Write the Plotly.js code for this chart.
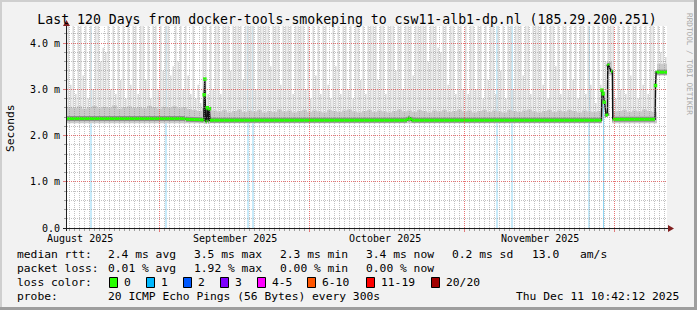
<!DOCTYPE html>
<html><head><meta charset="utf-8">
<script src="https://cdn.plot.ly/plotly-3.0.1.min.js"></script>
<style>html,body{margin:0;padding:0;background:#f2f2f2}#chart{width:697px;height:310px}</style>
</head><body><div id="chart"></div>
<script>
// ---------------- data ----------------
const T = 4.5; // smoke strand that runs off the top of the graph
const rangeStart = '2025-08-13 10:42:12';
const rangeEnd = '2025-12-11 10:42:12';
const monthGridDates = ['2025-09-01', '2025-10-01', '2025-11-01', '2025-12-01'];
const monthLabelDates = ['2025-08-16', '2025-09-16', '2025-10-16', '2025-11-16'];
const monthLabels = ['August 2025', 'September 2025', 'October 2025', 'November 2025'];
const yTickVals = [0, 1, 2, 3, 4];
const yTickText = ['0.0', '1.0 m', '2.0 m', '3.0 m', '4.0 m'];

// smoke (ping spread) tops, one value per 12 h column (240 columns)
const smokeTop = [
  T,3.1,T,2.9,T,T,3.3,T,2.8,T,3.0,T,T,3.6,
  3.9,3.8,T,3.0,T,2.9,T,3.2,T,2.8,T,3.1,T,
  T,2.9,T,T,3.2,T,2.8,T,T,3.0,T,3.4,T,
  T,3.3,3.5,T,3.6,T,3.0,T,3.3,2.9,T,2.8,3.1,2.7,
  T,T,2.9,T,3.0,
  T,T,2.9,T,T,T,3.4,T,T,T,T,3.2,T,T,T,T,3.0,T,T,T,T,T,3.5,T,T,T,3.1,T,T,T,T,2.9,T,T,T,
  T,3.0,T,2.8,T,3.3,T,2.9,T,T,3.1,2.8,T,3.5,T,2.9,T,T,3.0,T,2.8,T,T,3.2,T,2.9,T,T,
  T,T,3.2,T,T,2.9,T,T,T,3.4,T,T,3.0,T,T,T,3.3,T,T,T,T,T,3.6,T,T,T,3.9,3.8,T,T,3.1,T,T,2.9,T,T,3.0,T,2.9,T,
  T,3.0,T,T,2.8,T,3.2,T,T,2.9,T,3.4,T,2.8,T,T,3.0,T,T,T,3.3,T,T,2.9,T,T,T,T,3.1,T,2.8,T,T,3.5,T,2.9,T,T,3.0,T,3.2,T,2.8,T,T,2.9,T,3.1,T,2.7,T,
  3.1,T,3.6,T,T,T,2.8,
  T,3.0,T,2.9,T,3.3,T,T,2.8,T,3.1,T,2.9,T,T,3.0,
  T,3.8,T,3.7
];
const smokeFloorDefault = 2.26;
const smokeFloorIdx = [214, 215, 216, 217, 236, 237, 238, 239];
const smokeFloorVal = [2.7, 2.45, 3.35, 3.3, 3.3, 3.3, 3.3, 3.3];

// dense smoke band top, one value per day (120 days)
const bandTop = [
  2.62,2.60,2.63,2.58,2.61,2.64,2.59,2.62,2.60,2.65,2.58,2.61,2.63,2.60,2.62,2.59,2.64,2.61,2.58,2.62,2.60,2.63,2.59,2.61,2.57,2.55,2.53,
  2.60,2.62,
  2.54,2.52,2.55,2.50,2.53,2.56,2.51,2.54,2.52,2.55,
  2.50,2.53,2.51,2.56,2.52,2.54,2.50,2.53,2.55,2.51,
  2.54,2.52,2.50,2.55,2.53,2.51,2.54,2.56,2.52,2.50,
  2.53,2.55,2.51,2.54,2.52,2.50,2.53,2.56,2.52,2.54,
  2.51,2.55,2.53,2.50,2.54,2.52,2.55,2.51,2.53,2.56,
  2.52,2.54,2.50,2.53,2.55,2.51,2.54,2.52,2.50,2.55,
  2.53,2.51,2.54,2.56,2.52,2.50,2.53,2.55,2.51,2.54,
  2.52,2.55,2.53,2.50,2.54,2.52,2.51,2.53,
  2.27,3.60,2.52,
  2.53,2.55,2.51,2.54,2.52,2.56,2.53,2.51,
  3.55,3.55
];
const bandFloorDefault = 2.27;
const bandFloorIdx = [108, 118, 119];
const bandFloorVal = [3.32, 3.30, 3.30];

// median RTT (ms) change points
const medianDates = [
  '2025-08-13 10:42', '2025-09-06 01:06', '2025-09-06 05:54', '2025-09-09 10:42',
  '2025-09-09 19:20', '2025-09-09 21:15', '2025-09-10 00:08', '2025-09-10 03:59',
  '2025-09-10 09:44', '2025-09-10 12:08', '2025-09-10 16:27', '2025-09-10 19:20',
  '2025-09-10 21:44', '2025-09-11 01:06', '2025-10-20 10:42', '2025-10-20 17:54',
  '2025-10-21 01:06', '2025-10-21 08:18', '2025-11-28 08:18', '2025-11-28 10:42',
  '2025-11-28 16:56', '2025-11-28 21:44', '2025-11-29 05:54', '2025-11-29 13:06',
  '2025-11-29 14:32', '2025-11-29 18:51', '2025-11-30 05:54', '2025-11-30 12:37',
  '2025-11-30 14:32', '2025-11-30 20:18', '2025-12-09 01:06', '2025-12-09 03:30',
  '2025-12-09 06:51', '2025-12-09 10:42', '2025-12-11 10:42'
];
const medianVals = [
  2.37, 2.37, 2.35, 2.34,
  2.33, 2.88, 3.22, 2.31,
  2.31, 2.60, 2.31, 2.31,
  2.58, 2.33, 2.33, 2.37,
  2.38, 2.33, 2.33, 2.98,
  2.90, 2.72, 2.47, 2.42,
  3.55, 3.52, 3.39, 3.39,
  2.36, 2.35, 2.35, 3.08,
  3.39, 3.37, 3.37
];

// intervals with 1/20 packet loss
const lossDates = [
  '2025-08-18 05:54', '2025-09-02 05:54', '2025-09-18 15:30', '2025-09-19 15:30',
  '2025-11-07 10:42', '2025-11-10 10:42', '2025-11-25 20:18', '2025-11-28 17:54'
];

const titleText = 'Last 120 Days from docker-tools-smokeping to csw11-alb1-dp.nl (185.29.200.251)';
const rttLabel = 'median rtt:';
const rttStats = ['2.4 ms avg', '3.5 ms max', '2.3 ms min', '3.4 ms now', '0.2 ms sd', '13.0', 'am/s'];
const lossLabel = 'packet loss:';
const lossStats = ['0.01 % avg', '1.92 % max', '0.00 % min', '0.00 % now'];
const lossColorLabel = 'loss color:';
const lossColorNames = ['0', '1', '2', '3', '4-5', '6-10', '11-19', '20/20'];
const lossColorValues = ['#26ff00', '#00b8ff', '#0059ff', '#7e00ff', '#ff00ff', '#ff5500', '#ff0000', '#a10000'];
const probeLabel = 'probe:';
const probeText = '20 ICMP Echo Pings (56 Bytes) every 300s';
const stampText = 'Thu Dec 11 10:42:12 2025';
const watermark = 'RRDTOOL / TOBI OETIKER';

// ---------------- build ----------------
const HALF = 43200000, DAY = 86400000;
const t0 = Date.UTC(2025, 7, 13, 10, 42, 12);
const t1 = Date.UTC(2025, 11, 11, 10, 42, 12);
const fmt = ms => new Date(ms).toISOString().slice(0, 19).replace('T', ' ');

const smokeX = smokeTop.map((_, i) => fmt(t0 + (i + 0.5) * HALF));
const smokeBase = smokeTop.map((_, i) => { const k = smokeFloorIdx.indexOf(i); return k >= 0 ? smokeFloorVal[k] : smokeFloorDefault; });
const smokeH = smokeTop.map((v, i) => Math.max(0, v - smokeBase[i]));

const bandX = bandTop.map((_, i) => fmt(t0 + (i + 0.5) * DAY));
const bandBase = bandTop.map((_, i) => { const k = bandFloorIdx.indexOf(i); return k >= 0 ? bandFloorVal[k] : bandFloorDefault; });
const bandH = bandTop.map((v, i) => Math.max(0, v - bandBase[i]));

// split median into flat (green) runs and steep (black) jumps
const flatX = [], flatY = [], spikeX = [], spikeY = [];
const onFlat = medianVals.map(() => false);
for (let k = 0; k < medianVals.length - 1; k++) {
  if (Math.abs(medianVals[k + 1] - medianVals[k]) < 0.06) {
    flatX.push(medianDates[k], medianDates[k + 1], null);
    flatY.push(medianVals[k], medianVals[k + 1], null);
    onFlat[k] = true; onFlat[k + 1] = true;
  }
}
medianVals.forEach((v, k) => { if (!onFlat[k]) { spikeX.push(medianDates[k]); spikeY.push(v); } });

const traces = [
  { type: 'bar', x: smokeX, y: smokeH, base: smokeBase, width: HALF * 0.6,
    marker: { color: '#d8d8d8', line: { width: 0 } }, hoverinfo: 'skip' },
  { type: 'bar', x: bandX, y: bandH, base: bandBase, width: DAY,
    marker: { color: '#cacaca', line: { width: 0 } }, hoverinfo: 'skip' },
  { type: 'scatter', mode: 'lines', x: flatX, y: flatY, connectgaps: false,
    line: { color: '#8e8e8e', width: 5 }, hoverinfo: 'skip' },
  { type: 'scatter', mode: 'lines', x: medianDates, y: medianVals,
    line: { color: '#111111', width: 1.5 }, hoverinfo: 'skip' },
  { type: 'scatter', mode: 'lines', x: flatX, y: flatY, connectgaps: false,
    line: { color: '#26ff00', width: 3 }, hoverinfo: 'skip' },
  { type: 'scatter', mode: 'markers', x: spikeX, y: spikeY,
    marker: { symbol: 'square', size: 3.5, color: '#26ff00', line: { width: 0 } }, hoverinfo: 'skip' }
];

// pixel helpers for layout placement (plot area: x 67..667, y 26..228)
const PX = px => (px - 67) / 600;
const PY = py => (228 - py) / 202;
const YMAX = 202 / 46.25;
const snap = p => Math.floor(p) + 0.5; // crisp 1px grid lines
const MONO = 'DejaVu Sans Mono';
const MINOR_GRID = 'rgba(143,143,143,0.55)';
const MAJOR_GRID = 'rgba(225,80,80,0.8)';

const shapes = [];
lossDates.forEach(d => shapes.push({ type: 'line', xref: 'x', yref: 'paper', x0: d, x1: d, y0: 0, y1: 1,
  layer: 'between', line: { color: '#8fd6f5', width: 1 } }));

// rrdtool draws its grid above the data
for (let ms = Date.UTC(2025, 7, 14); ms <= Date.UTC(2025, 11, 11); ms += DAY) {
  const major = new Date(ms).getUTCDate() === 1;
  const xp = PX(snap(67 + 600 * (ms - t0) / (t1 - t0)));
  shapes.push({ type: 'line', xref: 'paper', yref: 'paper', x0: xp, x1: xp, y0: 0, y1: 1, layer: 'above',
    line: { color: major ? MAJOR_GRID : MINOR_GRID, width: 1, dash: '1px,1px' } });
}
for (let k = 1; k <= 21; k++) {
  const v = k / 5;
  const major = k % 5 === 0;
  const yp = PY(snap(228 - 202 * v / YMAX));
  shapes.push({ type: 'line', xref: 'paper', yref: 'paper', x0: 0, x1: 1, y0: yp, y1: yp, layer: 'above',
    line: { color: major ? MAJOR_GRID : MINOR_GRID, width: 1, dash: '1px,1px' } });
}

// rrdtool 3D frame
shapes.push({ type: 'rect', xref: 'paper', yref: 'paper', x0: PX(0), x1: PX(697), y0: PY(0), y1: PY(2), line: { width: 0 }, fillcolor: '#cfcfcf' });
shapes.push({ type: 'rect', xref: 'paper', yref: 'paper', x0: PX(0), x1: PX(2), y0: PY(0), y1: PY(310), line: { width: 0 }, fillcolor: '#cfcfcf' });
shapes.push({ type: 'rect', xref: 'paper', yref: 'paper', x0: PX(0), x1: PX(697), y0: PY(307), y1: PY(310), line: { width: 0 }, fillcolor: '#9e9e9e' });
shapes.push({ type: 'rect', xref: 'paper', yref: 'paper', x0: PX(694), x1: PX(697), y0: PY(0), y1: PY(310), line: { width: 0 }, fillcolor: '#9e9e9e' });
// axes with arrows
shapes.push({ type: 'line', xref: 'paper', yref: 'paper', x0: PX(63), x1: PX(669), y0: PY(228.5), y1: PY(228.5), line: { color: '#1f1f1f', width: 1 } });
shapes.push({ type: 'line', xref: 'paper', yref: 'paper', x0: PX(66.5), x1: PX(66.5), y0: PY(231), y1: PY(23), line: { color: '#1f1f1f', width: 1 } });
shapes.push({ type: 'path', xref: 'paper', yref: 'paper',
  path: `M ${PX(668)} ${PY(225)} L ${PX(674)} ${PY(228.5)} L ${PX(668)} ${PY(232)} Z`,
  fillcolor: '#801f1f', line: { width: 0 } });
shapes.push({ type: 'path', xref: 'paper', yref: 'paper',
  path: `M ${PX(63)} ${PY(26)} L ${PX(66.5)} ${PY(20)} L ${PX(70)} ${PY(26)} Z`,
  fillcolor: '#801f1f', line: { width: 0 } });

const boxLeftPx = [109, 146, 183, 220, 257, 307, 366, 431];
lossColorValues.forEach((c, k) => shapes.push({ type: 'rect', xref: 'paper', yref: 'paper',
  x0: PX(boxLeftPx[k] + 0.5), x1: PX(boxLeftPx[k] + 8.5), y0: PY(287.5), y1: PY(277.5),
  fillcolor: c, line: { color: '#000', width: 1 } }));

const ann = [];
const txt = (text, px, py, opts = {}) => ann.push(Object.assign({ text, x: PX(px), y: PY(py), xref: 'paper', yref: 'paper',
  xanchor: 'left', yanchor: 'middle', showarrow: false, font: { family: MONO, size: 11.3, color: '#000' } }, opts));

monthLabels.forEach((m, k) => ann.push({ text: m, x: monthLabelDates[k], xref: 'x', y: PY(238), yref: 'paper',
  xanchor: 'center', yanchor: 'middle', showarrow: false, font: { family: MONO, size: 10, color: '#000' } }));

const statCols = [107, 193, 279, 365, 451, 531, 579];
txt(rttLabel, 15, 254);
rttStats.forEach((s, k) => txt(s, statCols[k] - 1, 254));
txt(lossLabel, 15, 268);
lossStats.forEach((s, k) => txt(s, statCols[k] - 1, 268));
txt(lossColorLabel, 15, 282);
lossColorNames.forEach((s, k) => txt(s, boxLeftPx[k] + 13, 282));
txt(probeLabel, 15, 296);
txt(probeText, 106, 296);
txt(stampText, 681, 296, { xanchor: 'right' });
txt('Seconds', 10, 128, { xanchor: 'center', textangle: -90, font: { family: MONO, size: 11.3, color: '#000' } });
txt(watermark, 689, 64, { xanchor: 'center', textangle: 90, font: { family: MONO, size: 7.7, color: '#a8a8a8' } });

const layout = {
  width: 697, height: 310,
  margin: { l: 67, r: 30, t: 26, b: 82, pad: 0 },
  paper_bgcolor: '#f2f2f2', plot_bgcolor: '#ffffff',
  showlegend: false, barmode: 'overlay',
  font: { family: MONO, size: 10, color: '#000' },
  title: { text: titleText, font: { family: MONO, size: 13.2, color: '#000' },
    xref: 'container', x: 347 / 697, xanchor: 'center', yref: 'container', y: 1 - 19 / 310, yanchor: 'middle' },
  xaxis: {
    type: 'date', range: [rangeStart, rangeEnd], fixedrange: true,
    tickmode: 'array', tickvals: monthGridDates, showticklabels: false,
    ticks: 'outside', ticklen: 3, tickcolor: '#e07a7a',
    showgrid: false, zeroline: false, showline: false,
    minor: { tickmode: 'linear', tick0: '2025-08-01', dtick: DAY, showgrid: false,
      ticks: 'outside', ticklen: 2, tickcolor: '#a0a0a0' }
  },
  yaxis: {
    range: [0, YMAX], fixedrange: true,
    tickmode: 'array', tickvals: yTickVals, ticktext: yTickText,
    ticks: 'outside', ticklen: 3, tickcolor: '#e07a7a', ticklabelstandoff: 1,
    tickfont: { family: MONO, size: 10, color: '#000' },
    showgrid: false, zeroline: false, showline: false,
    minor: { tickmode: 'linear', tick0: 0, dtick: 0.2, showgrid: false,
      ticks: 'outside', ticklen: 2, tickcolor: '#a0a0a0' }
  },
  shapes: shapes,
  annotations: ann
};

Plotly.newPlot('chart', traces, layout, { staticPlot: true, displayModeBar: false });
</script>
</body></html>
